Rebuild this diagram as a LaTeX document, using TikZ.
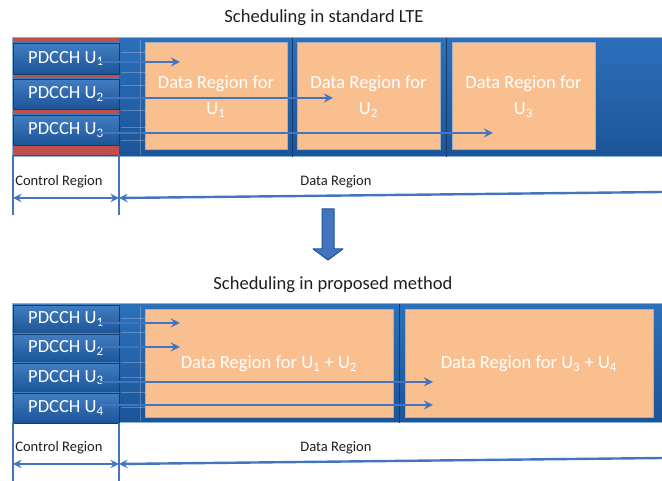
\documentclass[tikz,border=0pt]{standalone}
\usepackage{fontspec}
\setmainfont{Carlito}
\usetikzlibrary{arrows,calc}

\definecolor{bandblue}{RGB}{44,112,186}
\definecolor{banddark}{RGB}{28,84,152}
\definecolor{ctrlred}{RGB}{192,80,77}
\definecolor{dataorange}{RGB}{249,191,143}
\definecolor{sigblue}{RGB}{66,116,192}
\definecolor{txtgray}{RGB}{30,30,30}

\tikzset{
  band/.style={top color=bandblue, bottom color=banddark, draw=bandblue!55!white, line width=0.75pt},
  pdcch/.style={minimum width=79.5pt, minimum height=#1, inner sep=0pt, top color=bandblue!90!white,
    bottom color=banddark, draw=banddark!70!black, line width=0.5pt, text=white,
    font=\fontsize{13.9}{16}\selectfont},
  pdcch/.default=23pt,
  databox/.style={fill=dataorange, draw=bandblue!35!gray!60!white, line width=0.75pt, inner sep=0pt,
    text=white, align=center, font=\fontsize{13.9}{20}\selectfont},
  sig/.style={draw=sigblue, line width=2pt, ->},
  meas/.style={draw=sigblue, line width=1.8pt},
  title/.style={text=txtgray, font=\fontsize{13.9}{16}\selectfont},
  measlabel/.style={text=txtgray, font=\fontsize{10.9}{13}\selectfont, inner sep=0pt},
  gridln/.style={draw=white, opacity=0.25, line width=0.5pt}
}

\begin{document}
\begin{tikzpicture}[x=0.75pt, y=-0.75pt, >=stealth, line join=round]
\useasboundingbox (0,0) rectangle (662,481);

% ---- standard LTE ----
\node[title] (t1) at (324,18) {Scheduling in standard LTE};

\fill[band] (12,38) rectangle (662,157);
\fill[ctrlred] (13,38) rectangle (119,155);
\foreach \y in {52,72,85,110,127,140}
  \draw[gridln] (121,\y) -- (145,\y);
\draw[gridln] (140,40) -- (140,155);
\draw[banddark!70!black, line width=0.75pt] (292,38) -- (292,157);
\draw[banddark!70!black, line width=0.75pt] (446,38) -- (446,157);

\node[pdcch=23.25pt] (ua1) at (66,58.5) {PDCCH U\textsubscript{1}};
\node[pdcch=22.5pt] (ua2) at (66,94) {PDCCH U\textsubscript{2}};
\node[pdcch=22.5pt] (ua3) at (66,130) {PDCCH U\textsubscript{3}};

\node[databox, minimum width=106.5pt, minimum height=80.25pt] (da1) at (216,96.5) {Data Region for\\U\textsubscript{1}};
\node[databox, minimum width=107.25pt, minimum height=80.25pt] (da2) at (368.5,96.5) {Data Region for\\U\textsubscript{2}};
\node[databox, minimum width=107.25pt, minimum height=80.25pt] (da3) at (523.5,96.5) {Data Region for\\U\textsubscript{3}};

\coordinate (ta1) at (180,62);
\coordinate (ta2) at (333,98);
\coordinate (ta3) at (493,133);
\draw[sig] ($(ua1.east |- ta1)+(-19,0)$) -- (ta1);
\draw[sig] ($(ua2.east |- ta2)+(-19,0)$) -- (ta2);
\draw[sig] ($(ua3.east |- ta3)+(-19,0)$) -- (ta3);

% measures
\coordinate (la) at (13,155);
\coordinate (ra) at (119,155);
\coordinate (ea) at (662,192);
\draw[meas] (la) -- ++(0,60);
\draw[meas] (ra) -- ++(0,60);
\draw[meas, <->] ($(la)+(0,43)$) -- ($(ra)+(0,43)$);
\draw[meas, <-] ($(ra)+(0,43)$) -- (ea);
\node[measlabel, anchor=west] (cra) at (15,182) {Control Region};
\node[measlabel] (dra) at (336,182) {Data Region};

% arrow down
\fill[sigblue, draw=banddark, line width=0.75pt] (322,209) -- (334,209) -- (334,249) -- (343,249)
  -- (328,260) -- (313,249) -- (322,249) -- cycle;

% ---- proposed method ----
\node[title] (t2) at (333,285) {Scheduling in proposed method};

\fill[band] (12,304) rectangle (662,423);
\foreach \y in {318,332,347,362,377,392,407}
  \draw[gridln] (121,\y) -- (145,\y);
\draw[gridln] (140,306) -- (140,421);
\draw[banddark!70!black, line width=0.75pt] (399,304) -- (399,423);

\node[pdcch=21pt] (ub1) at (66,319) {PDCCH U\textsubscript{1}};
\node[pdcch=21pt] (ub2) at (66,348) {PDCCH U\textsubscript{2}};
\node[pdcch=21.75pt] (ub3) at (66,377.5) {PDCCH U\textsubscript{3}};
\node[pdcch=22.5pt] (ub4) at (66,408) {PDCCH U\textsubscript{4}};

\node[databox, minimum width=186pt, minimum height=81pt] (db1) at (269,364) {Data Region for U\textsubscript{1} + U\textsubscript{2}};
\node[databox, minimum width=186pt, minimum height=81pt] (db2) at (529,364) {Data Region for U\textsubscript{3} + U\textsubscript{4}};

\coordinate (tb1) at (180,323);
\coordinate (tb2) at (180,347);
\coordinate (tb3) at (433,382);
\coordinate (tb4) at (433,405);
\draw[sig] ($(ub1.east |- tb1)+(-19,0)$) -- (tb1);
\draw[sig] ($(ub2.east |- tb2)+(-19,0)$) -- (tb2);
\draw[sig] ($(ub3.east |- tb3)+(-19,0)$) -- (tb3);
\draw[sig] ($(ub4.east |- tb4)+(-19,0)$) -- (tb4);

% measures
\coordinate (lb) at (13,423);
\coordinate (rb) at (119,423);
\coordinate (eb) at (662,458);
\draw[meas] (lb) -- ++(0,58);
\draw[meas] (rb) -- ++(0,58);
\draw[meas, <->] ($(lb)+(0,41)$) -- ($(rb)+(0,41)$);
\draw[meas, <-] ($(rb)+(0,41)$) -- (eb);
\node[measlabel, anchor=west] (crb) at (15,448) {Control Region};
\node[measlabel] (drb) at (336,448) {Data Region};
\end{tikzpicture}
\end{document}
